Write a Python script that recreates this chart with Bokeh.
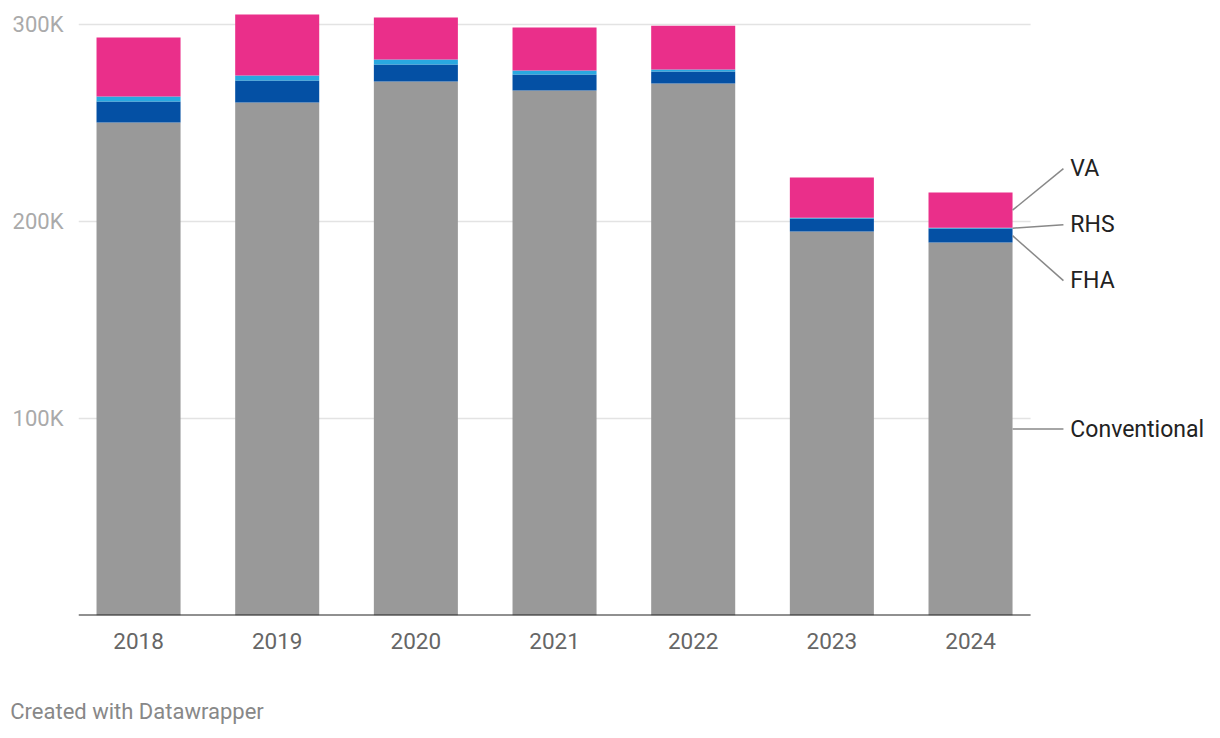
from bokeh.plotting import figure
from bokeh.models import ColumnDataSource, FixedTicker, Range1d, LinearAxis
from bokeh.core.properties import value
from bokeh.embed import file_html
from bokeh.resources import INLINE

# ---- data (loans) ----
years = ["2018", "2019", "2020", "2021", "2022", "2023", "2024"]
conventional = [250300, 260400, 271100, 266500, 270100, 194900, 189300]
fha = [10600, 11200, 8600, 8100, 6000, 6600, 7100]
rhs = [2600, 2500, 2500, 2000, 1000, 400, 400]
va = [29900, 31000, 21400, 21900, 22300, 20400, 17900]
series = ["Conventional", "FHA", "RHS", "VA"]
colors = ["#999999", "#0450a4", "#29a8e0", "#ea2f8a"]
y_ticks = [100000, 200000, 300000]
y_tick_labels = ["100K", "200K", "300K"]
credit_text = "Created with Datawrapper"

FONT = "Roboto"
x = list(range(len(years)))
bar_w = 0.606
x_lo, x_hi = -0.433, len(years) - 1 + 0.433
x_end = 7.745
y_lo, y_hi = 0, 307100
FRAME_LEFT, FIG_W = 78, 1212

src = ColumnDataSource(dict(x=x, Conventional=conventional, FHA=fha, RHS=rhs, VA=va))

p = figure(width=FIG_W, height=730, output_backend="svg", toolbar_location=None,
           x_range=Range1d(x_lo, x_end), y_range=Range1d(y_lo, y_hi),
           min_border_left=FRAME_LEFT, min_border_right=0, min_border_top=10, min_border_bottom=115,
           outline_line_color=None, background_fill_color="white", border_fill_color="white")
p.xgrid.visible = False
p.ygrid.visible = False

# gridlines
p.segment(x0=[x_lo] * len(y_ticks), x1=[x_hi] * len(y_ticks), y0=y_ticks, y1=y_ticks,
          line_color="#e3e3e3", line_width=1.5)

p.vbar_stack(series, x="x", width=bar_w, source=src, color=colors, line_color=None)

# baseline
p.segment(x0=[x_lo], x1=[x_hi], y0=[0], y1=[0], line_color="#222222", line_width=2)

# axes
p.yaxis.ticker = FixedTicker(ticks=y_ticks)
p.yaxis.major_label_overrides = {t: l for t, l in zip(y_ticks, y_tick_labels)}
p.yaxis.axis_line_color = None
p.yaxis.major_tick_line_color = None
p.yaxis.minor_tick_line_color = None
p.yaxis.major_label_standoff = 9
p.yaxis.major_label_text_font = FONT
p.yaxis.major_label_text_font_size = "22px"
p.yaxis.major_label_text_color = "#aaaaaa"

p.xaxis.ticker = FixedTicker(ticks=x)
p.xaxis.major_label_overrides = {i: y for i, y in zip(x, years)}
p.xaxis.axis_line_color = None
p.xaxis.major_tick_line_color = None
p.xaxis.minor_tick_line_color = None
p.xaxis.major_label_standoff = 11
p.xaxis.major_label_text_font = FONT
p.xaxis.major_label_text_font_size = "22.5px"
p.xaxis.major_label_text_color = "#666666"

# ---- direct labels for last bar, with simple repel ----
last = len(years) - 1
vals = [conventional[last], fha[last], rhs[last], va[last]]
mids = []
base = 0
for v in vals:
    mids.append(base + v / 2)
    base += v
px_per_unit = 605 / (y_hi - y_lo)
min_gap = 56 / px_per_unit


def place(g):
    c = sum(mids[k] for k in g) / len(g)
    return [c + (j - (len(g) - 1) / 2) * min_gap for j in range(len(g))]


groups = []
for i in range(len(series)):
    groups.append([i])
    while len(groups) > 1:
        g1, g2 = groups[-2], groups[-1]
        if place(g2)[0] - place(g1)[-1] < min_gap:
            groups[-2:] = [g1 + g2]
        else:
            break
label_y = [0] * len(series)
for g in groups:
    for k, yy in zip(g, place(g)):
        label_y[k] = yy

lx0 = last + bar_w / 2
lx1 = last + 0.67
p.segment(x0=[lx0] * 4, y0=mids, x1=[lx1] * 4, y1=label_y, line_color="#888888", line_width=1.5)
p.text(x=[last + 0.72] * 4, y=label_y, text=series, text_font=value(FONT), text_font_size="23px",
       text_color="#222222", text_baseline="middle", text_align="left")

# ---- credit line: a second (tick-label only) axis below the year axis ----
px_per_x = (FIG_W - FRAME_LEFT) / (x_end - x_lo)
credit_center_px = 126.5 - (FRAME_LEFT - 10)  # text centre relative to frame left
credit_x = round(x_lo + credit_center_px / px_per_x, 4)
credit_axis = LinearAxis(ticker=FixedTicker(ticks=[credit_x]),
                         major_label_overrides={credit_x: credit_text},
                         axis_line_color=None, major_tick_line_color=None,
                         minor_tick_line_color=None, major_label_standoff=41,
                         major_label_text_font=FONT, major_label_text_font_size="22px",
                         major_label_text_color="#888888")
p.add_layout(credit_axis, "below")

open("out.html", "w").write(file_html(p, INLINE))
